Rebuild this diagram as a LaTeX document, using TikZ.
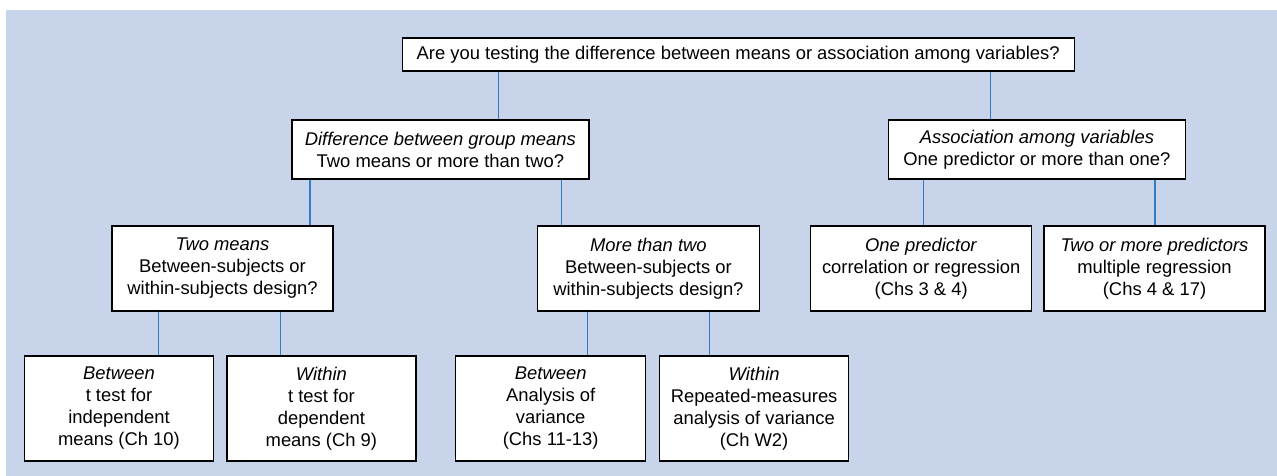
\documentclass[tikz,border=0pt]{standalone}
\usepackage{fontspec}
\setmainfont{Liberation Sans}
\definecolor{bgblue}{RGB}{200,212,234}
\definecolor{linkblue}{RGB}{50,124,194}
\begin{document}
\begin{tikzpicture}[x=1pt,y=-1pt,
  box/.style={draw=black, line width=1.3pt, fill=white, align=center, inner sep=0pt,
    font=\fontsize{18.4}{22}\selectfont},
  conn/.style={draw=linkblue, line width=1.2pt}]
\fill[white] (0,0) rectangle (1277,476);
\useasboundingbox (0,0) rectangle (1277,476);
\fill[bgblue] (6,10) rectangle (1277,476);

\node[box, minimum width=672, minimum height=33] (top) at (738.2,54.5)
  {Are you testing the difference between means or association among variables?};
\node[box, minimum width=297, minimum height=59] (diff) at (440.4,149.5)
  {\textit{Difference between group means}\\Two means or more than two?};
\node[box, minimum width=297, minimum height=59] (assoc) at (1036.9,149.5)
  {\textit{Association among variables}\\One predictor or more than one?};
\node[box, minimum width=221, minimum height=85] (twom) at (222.5,268.5)
  {\textit{Two means}\\Between-subjects or\\within-subjects design?};
\node[box, minimum width=222, minimum height=85] (more) at (648.4,268.5)
  {\textit{More than two}\\Between-subjects or\\within-subjects design?};
\node[box, minimum width=221, minimum height=85] (onep) at (921.2,268.5)
  {\textit{One predictor}\\correlation or regression\\(Chs 3 \& 4)};
\node[box, minimum width=221, minimum height=85] (twop) at (1154.5,268.5)
  {\textit{Two or more predictors}\\multiple regression\\(Chs 4 \& 17)};
\node[box, minimum width=189, minimum height=105] (betw) at (119,408.5)
  {\textit{Between}\\t test for\\independent\\means (Ch 10)};
\node[box, minimum width=189, minimum height=105] (with) at (321.4,408.5)
  {\textit{Within}\\t test for\\dependent\\means (Ch 9)};
\node[box, minimum width=190, minimum height=105] (betwB) at (550.7,408.5)
  {\textit{Between}\\Analysis of\\variance\\(Chs 11-13)};
\node[box, minimum width=189, minimum height=105] (withB) at (754.1,408.5)
  {\textit{Within}\\Repeated-measures\\analysis of variance\\(Ch W2)};

\coordinate (c1) at (498.6,0);
\coordinate (c2) at (990.4,0);
\coordinate (c3) at (310,0);
\coordinate (c4) at (561.7,0);
\coordinate (c5) at (923.4,0);
\coordinate (c6) at (1155,0);
\coordinate (c7) at (158.3,0);
\coordinate (c8) at (280.4,0);
\coordinate (c9) at (587.3,0);
\coordinate (c10) at (709.4,0);

\draw[conn] (top.south -| c1) -- (diff.north -| c1);
\draw[conn] (top.south -| c2) -- (assoc.north -| c2);
\draw[conn] (diff.south -| c3) -- (twom.north -| c3);
\draw[conn] (diff.south -| c4) -- (more.north -| c4);
\draw[conn] (assoc.south -| c5) -- (onep.north -| c5);
\draw[conn] (assoc.south -| c6) -- (twop.north -| c6);
\draw[conn] (twom.south -| c7) -- (betw.north -| c7);
\draw[conn] (twom.south -| c8) -- (with.north -| c8);
\draw[conn] (more.south -| c9) -- (betwB.north -| c9);
\draw[conn] (more.south -| c10) -- (withB.north -| c10);
\end{tikzpicture}
\end{document}
